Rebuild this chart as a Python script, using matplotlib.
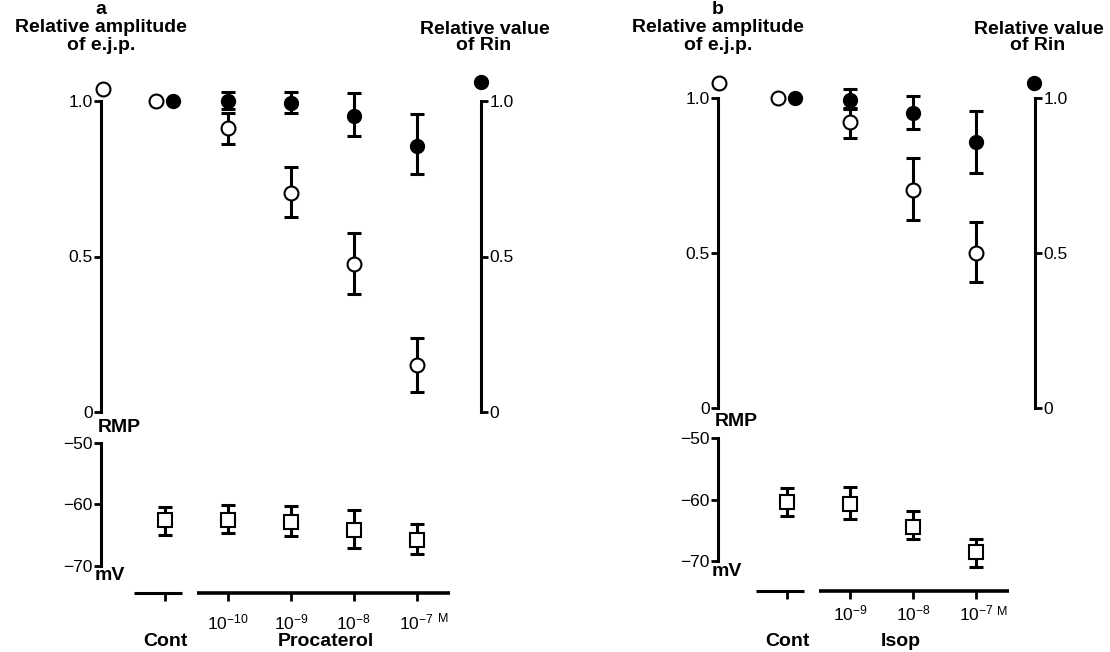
import numpy as np
from matplotlib import pyplot as plt

plt.rcParams['font.family'] = ['Liberation Sans', 'DejaVu Sans']
plt.rcParams['mathtext.default'] = 'regular'

W, H = 1110, 652

# panel a: Procaterol
conc_a = ['10$^{-10}$', '10$^{-9}$', '10$^{-8}$', '10$^{-7}$']
ejp_a = [1.0, 0.913, 0.704, 0.477, 0.150]
ejp_a_lo = [1.0, 0.862, 0.628, 0.379, 0.063]
ejp_a_hi = [1.0, 0.962, 0.787, 0.577, 0.239]
rin_a = [1.0, 1.0, 0.995, 0.953, 0.854]
rin_a_lo = [1.0, 0.975, 0.962, 0.886, 0.764]
rin_a_hi = [1.0, 1.03, 1.03, 1.025, 0.957]
rmp_a = [-62.6, -62.5, -62.8, -64.2, -65.7]
rmp_a_lo = [-64.9, -64.7, -65.1, -67.1, -68.1]
rmp_a_hi = [-60.4, -60.1, -60.3, -60.9, -63.1]

# panel b: Isop
conc_b = ['10$^{-9}$', '10$^{-8}$', '10$^{-7}$']
ejp_b = [1.0, 0.921, 0.704, 0.5]
ejp_b_lo = [1.0, 0.87, 0.606, 0.405]
ejp_b_hi = [1.0, 0.967, 0.805, 0.6]
rin_b = [1.0, 0.995, 0.951, 0.858]
rin_b_lo = [1.0, 0.965, 0.901, 0.758]
rin_b_hi = [1.0, 1.03, 1.007, 0.957]
rmp_b = [-60.4, -60.8, -64.4, -68.6]
rmp_b_lo = [-62.7, -63.2, -66.4, -71.0]
rmp_b_hi = [-58.1, -58.0, -61.8, -66.4]


def box(l, t, r, b):
    return [l / W, 1 - b / H, (r - l) / W, (b - t) / H]


def clean(ax):
    for s in ax.spines.values():
        s.set_visible(False)


def panel(fig, letter, drug, conc, ejp, ejp_lo, ejp_hi, rin, rin_lo, rin_hi,
          rmp, rmp_lo, rmp_hi, px, xlim, top, bot, rtop, rbot, cat_y, lab_pad,
          drug_x, leg_open, leg_fill):
    l, r = px
    n = len(conc)
    xs = np.arange(1, n + 1)
    lw = 2.2
    ms = 10
    fs_tick = 12.5
    fs_bold = 14

    # upper axes: e.j.p. amplitude (left) and Rin (right)
    ax = fig.add_axes(box(l, top, r, bot))
    clean(ax)
    ax.set_xlim(xlim)
    ax.set_ylim(0, 1)
    ax.spines['left'].set_visible(True)
    ax.spines['left'].set_linewidth(lw)
    ax.set_xticks([])
    ax.set_yticks([0, 0.5, 1.0])
    ax.set_yticklabels(['0', '0.5', '1.0'])
    ax.tick_params(axis='y', direction='out', length=5, width=2, labelsize=fs_tick, pad=1)
    ax.patch.set_alpha(0)

    ax2 = ax.twinx()
    clean(ax2)
    ax2.set_xlim(xlim)
    ax2.set_ylim(0, 1)
    ax2.spines['right'].set_visible(True)
    ax2.spines['right'].set_linewidth(lw)
    ax2.set_yticks([0, 0.5, 1.0])
    ax2.set_yticklabels(['0', '0.5', '1.0'])
    ax2.tick_params(axis='y', direction='out', length=5, width=2, labelsize=fs_tick, pad=1)

    ekw = dict(fmt='none', ecolor='black', elinewidth=lw, capsize=5, capthick=lw,
               clip_on=False, zorder=3)
    ax.errorbar(xs, rin[1:], yerr=[np.subtract(rin[1:], rin_lo[1:]),
                                   np.subtract(rin_hi[1:], rin[1:])], **ekw)
    ax.errorbar(xs, ejp[1:], yerr=[np.subtract(ejp[1:], ejp_lo[1:]),
                                   np.subtract(ejp_hi[1:], ejp[1:])], **ekw)
    ax.plot(xs, rin[1:], 'o', ms=ms, mfc='black', mec='black', clip_on=False, zorder=4)
    ax.plot(xs, ejp[1:], 'o', ms=ms, mfc='white', mec='black', mew=1.5, clip_on=False, zorder=4)
    ax.plot([0.13], [rin[0]], 'o', ms=ms, mfc='black', mec='black', clip_on=False, zorder=4)
    ax.plot([-0.15], [ejp[0]], 'o', ms=ms, mfc='white', mec='black', mew=1.5, clip_on=False, zorder=5)

    # key markers on the axes
    ax.plot([leg_open[0]], [leg_open[1]], 'o', ms=ms, mfc='white', mec='black', mew=1.5,
            clip_on=False, zorder=5)
    ax.plot([leg_fill[0]], [leg_fill[1]], 'o', ms=ms, mfc='black', mec='black',
            clip_on=False, zorder=5)

    # lower axes: resting membrane potential
    axr = fig.add_axes(box(l, rtop, r, rbot))
    clean(axr)
    axr.patch.set_alpha(0)
    axr.set_xlim(xlim)
    axr.set_ylim(-70, -50)
    axr.spines['left'].set_visible(True)
    axr.spines['left'].set_linewidth(lw)
    axr.set_xticks([])
    axr.set_yticks([-50, -60, -70])
    axr.tick_params(axis='y', direction='out', length=5, width=2, labelsize=fs_tick, pad=1)
    axr.errorbar(np.arange(0, n + 1), rmp, yerr=[np.subtract(rmp, rmp_lo),
                                                 np.subtract(rmp_hi, rmp)], **ekw)
    axr.plot(np.arange(0, n + 1), rmp, 's', ms=ms, mfc='white', mec='black', mew=1.5,
             clip_on=False, zorder=4)

    # category axis
    axc = fig.add_axes(box(l, cat_y - 20, r, cat_y))
    clean(axc)
    axc.patch.set_alpha(0)
    axc.set_xlim(xlim)
    axc.set_ylim(0, 1)
    axc.hlines(0, -0.5, 0.26, color='black', lw=lw, clip_on=False)
    axc.hlines(0, 0.5, n + 0.52, color='black', lw=2.6, clip_on=False)
    axc.set_yticks([])
    axc.set_xticks(np.arange(0, n + 1))
    axc.set_xticklabels([''] + conc)
    axc.tick_params(axis='x', direction='out', length=6, width=2, labelsize=fs_tick,
                    pad=lab_pad)

    # text
    xpix = lambda v: l + (v - xlim[0]) / (xlim[1] - xlim[0]) * (r - l)
    tkw = dict(ha='center', va='center', fontweight='bold', fontsize=fs_bold)
    fig.text(l / W, 1 - 9 / H, letter, **tkw)
    fig.text(l / W, 1 - 28 / H, 'Relative amplitude', **tkw)
    fig.text(l / W, 1 - 45 / H, 'of e.j.p.', **tkw)
    fig.text(min(r + 4, 1108 - 68) / W, 1 - 29 / H, 'Relative value', **tkw)
    fig.text((r + 3) / W, 1 - 46 / H, 'of Rin', **tkw)
    fig.text((l - 3) / W, 1 - (rtop - 16) / H, 'RMP', ha='left', va='center',
             fontweight='bold', fontsize=fs_bold)
    fig.text((l - 6) / W, 1 - (rbot + 10) / H, 'mV', ha='left', va='center',
             fontweight='bold', fontsize=fs_bold)
    fig.text((xpix(n) + 26) / W, 1 - (cat_y + 6 + lab_pad + 12) / H, 'M', ha='center',
             va='center', fontsize=9)
    fig.text(xpix(0) / W, 1 - 641 / H, 'Cont', ha='center', va='center',
             fontweight='bold', fontsize=fs_bold)
    fig.text(xpix(drug_x) / W, 1 - 641 / H, drug, ha='center', va='center',
             fontweight='bold', fontsize=fs_bold)


fig = plt.figure(figsize=(W / 100, H / 100), dpi=100)

panel(fig, 'a', 'Procaterol', conc_a, ejp_a, ejp_a_lo, ejp_a_hi, rin_a, rin_a_lo, rin_a_hi,
      rmp_a, rmp_a_lo, rmp_a_hi, px=(101, 481), xlim=(-1.02, 5.02), top=101, bot=412,
      rtop=443, rbot=566, cat_y=593, lab_pad=8, drug_x=2.55,
      leg_open=(-0.99, 1.04), leg_fill=(5.02, 1.06))

panel(fig, 'b', 'Isop', conc_b, ejp_b, ejp_b_lo, ejp_b_hi, rin_b, rin_b_lo, rin_b_hi,
      rmp_b, rmp_b_lo, rmp_b_hi, px=(718, 1035), xlim=(-1.1, 3.94), top=98, bot=408,
      rtop=438, rbot=561, cat_y=591, lab_pad=3, drug_x=1.8,
      leg_open=(-1.08, 1.05), leg_fill=(3.92, 1.05))

plt.savefig('out.png', dpi=100)
